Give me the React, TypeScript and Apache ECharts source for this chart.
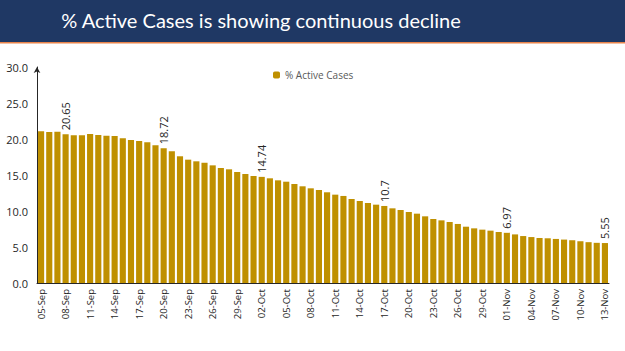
import React, { useEffect, useRef } from "react";
import * as echarts from "echarts";

const TITLE = "% Active Cases is showing continuous decline";
const SERIES_NAME = "% Active Cases";

const categories: string[] = [
  "05-Sep","06-Sep","07-Sep","08-Sep","09-Sep","10-Sep","11-Sep","12-Sep","13-Sep","14-Sep",
  "15-Sep","16-Sep","17-Sep","18-Sep","19-Sep","20-Sep","21-Sep","22-Sep","23-Sep","24-Sep",
  "25-Sep","26-Sep","27-Sep","28-Sep","29-Sep","30-Sep",
  "01-Oct","02-Oct","03-Oct","04-Oct","05-Oct","06-Oct","07-Oct","08-Oct","09-Oct","10-Oct",
  "11-Oct","12-Oct","13-Oct","14-Oct","15-Oct","16-Oct","17-Oct","18-Oct","19-Oct","20-Oct",
  "21-Oct","22-Oct","23-Oct","24-Oct","25-Oct","26-Oct","27-Oct","28-Oct","29-Oct","30-Oct","31-Oct",
  "01-Nov","02-Nov","03-Nov","04-Nov","05-Nov","06-Nov","07-Nov","08-Nov","09-Nov","10-Nov",
  "11-Nov","12-Nov","13-Nov",
];

const activePct: number[] = [
  21.07, 20.97, 21.02, 20.65, 20.51, 20.51, 20.70, 20.56, 20.46, 20.42,
  20.10, 19.86, 19.72, 19.54, 19.12, 18.72, 18.29, 17.60, 17.13, 16.90,
  16.70, 16.34, 15.97, 15.79, 15.42, 15.14,
  14.86, 14.74, 14.54, 14.26, 14.07, 13.75, 13.43, 13.15, 12.92, 12.60,
  12.27, 12.09, 11.67, 11.39, 11.11, 10.88, 10.70, 10.37, 10.14, 9.86,
  9.63, 9.26, 8.89, 8.70, 8.47, 8.20, 7.82, 7.59, 7.41, 7.27, 7.08,
  6.97, 6.75, 6.52, 6.38, 6.25, 6.21, 6.12, 6.03, 5.94, 5.80,
  5.67, 5.58, 5.55,
];

const labelledIdx: number[] = [3, 15, 27, 42, 57, 69];
const yTicks: number[] = [0, 5, 10, 15, 20, 25, 30];

export default function App() {
  const ref = useRef<HTMLDivElement>(null);
  useEffect(() => {
    if (!ref.current) return;
    const chart = echarts.init(ref.current, undefined, { renderer: "svg" });
    const font = "'Open Sans', 'Noto Sans', sans-serif";
    chart.setOption({
      animation: false,
      backgroundColor: "#ffffff",
      textStyle: { fontFamily: font },
      graphic: [
        { type: "rect", left: 0, top: 0, shape: { width: 625, height: 42 }, style: { fill: "#1F3864" } },
        { type: "rect", left: 0, top: 42, shape: { width: 625, height: 1.5 }, style: { fill: "#E8834A" } },
        {
          type: "text",
          x: 261,
          y: 20,
          style: {
            text: TITLE,
            fill: "#ffffff",
            font: "20px Lato, 'Open Sans', sans-serif",
            align: "center",
            verticalAlign: "middle",
          },
        },
      ],
      legend: {
        data: [SERIES_NAME],
        left: 268,
        top: 65,
        itemWidth: 7,
        itemHeight: 7,
        itemGap: 4,
        textStyle: { color: "#595959", fontSize: 10, fontFamily: font },
      },
      grid: { left: 37, right: 16, top: 67, bottom: 68 },
      xAxis: {
        type: "category",
        data: categories,
        boundaryGap: true,
        axisLine: { lineStyle: { color: "#262626", width: 1 } },
        axisTick: { interval: 2, alignWithLabel: false, length: 4, lineStyle: { color: "#262626" } },
        axisLabel: {
          interval: 2,
          rotate: 90,
          color: "#262626",
          fontSize: 9.5,
          margin: 6,
          fontFamily: font,
        },
      },
      yAxis: {
        type: "value",
        min: 0,
        max: 30,
        interval: 5,
        splitLine: { show: false },
        axisLine: {
          show: true,
          symbol: ["none", "arrow"],
          symbolSize: [5, 6],
          lineStyle: { color: "#262626", width: 1 },
        },
        axisTick: { show: false },
        axisLabel: {
          color: "#262626",
          fontSize: 11,
          margin: 9,
          fontFamily: font,
          formatter: (v: number) => (yTicks.includes(v) ? v.toFixed(1) : ""),
        },
      },
      series: [
        {
          name: SERIES_NAME,
          type: "bar",
          data: activePct.map((v, i) =>
            labelledIdx.includes(i)
              ? {
                  value: v,
                  label: {
                    show: true,
                    position: "top",
                    rotate: 90,
                    align: "left",
                    verticalAlign: "middle",
                    distance: 4,
                    color: "#262626",
                    fontSize: 11,
                    fontFamily: font,
                    formatter: String(v),
                  },
                }
              : v
          ),
          barCategoryGap: "25%",
          itemStyle: { color: "#BF9000" },
        },
      ],
    });
    return () => chart.dispose();
  }, []);
  return (
    <div
      ref={ref}
      style={{ position: "fixed", left: 0, top: 0, width: 625, height: 351, background: "#fff" }}
    />
  );
}
